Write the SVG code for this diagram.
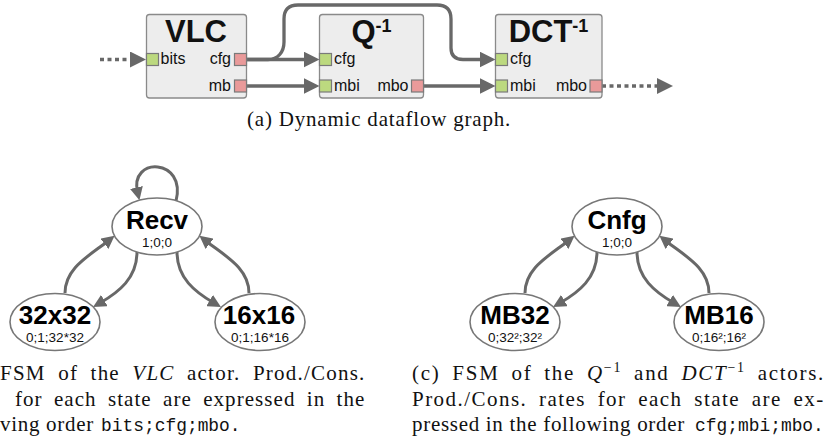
<svg xmlns="http://www.w3.org/2000/svg" width="825" height="442" viewBox="0 0 825 442">
<defs>
<style>
.box{fill:#ededed;stroke:#8a8a8a;stroke-width:1.3}
.pin{fill:#bcd97f;stroke:#7a7a7a;stroke-width:1.2}
.pout{fill:#e99a9a;stroke:#7a7a7a;stroke-width:1.2}
.title{font-family:"Liberation Sans",Arial,sans-serif;font-weight:bold;font-size:31px;fill:#111}
.sup{font-size:18px}
.port{font-family:"Liberation Sans",Arial,sans-serif;font-size:16px;fill:#111}
.edge{fill:none;stroke:#686868;stroke-width:3.3}
.dot{stroke-dasharray:4 3.5}
.st{fill:#fff;stroke:#777;stroke-width:1.6}
.big{font-family:"Liberation Sans",Arial,sans-serif;font-weight:bold;font-size:26px;fill:#000;text-anchor:middle}
.small{font-family:"Liberation Sans",Arial,sans-serif;font-size:13.5px;fill:#111;text-anchor:middle}
.fe{fill:none;stroke:#686868;stroke-width:3}
.cap{font-family:"Liberation Serif","Times New Roman",serif;font-size:21px;fill:#111;letter-spacing:0.7px}
.tt{font-family:"Liberation Mono","Courier New",monospace;font-size:17.9px;letter-spacing:0}
</style>
<marker id="ah" markerUnits="userSpaceOnUse" markerWidth="16" markerHeight="16" refX="6" refY="8" orient="auto" viewBox="0 0 16 16"><path d="M0,0 L16,8 L0,16 z" fill="#686868"/></marker>
<marker id="fh" markerUnits="userSpaceOnUse" markerWidth="13" markerHeight="13" refX="5" refY="6.5" orient="auto" viewBox="0 0 13 13"><path d="M0,0 L13,6.5 L0,13 z" fill="#686868"/></marker>
</defs>
<rect width="825" height="442" fill="#fff"/>

<g id="connectors">
<path class="edge dot" d="M100 59.5 H136" marker-end="url(#ah)"/>
<path class="edge" d="M246.5 59.5 H309.5" marker-end="url(#ah)"/>
<path class="edge" d="M246.5 59.5 H268 C278 59.5 284 52 284 42 V19 Q284 5 298 5 H437 Q451 5 451 19 V48 Q451 59.5 463 59.5 H485.5" marker-end="url(#ah)"/>
<path class="edge" d="M246.5 86 H309.5" marker-end="url(#ah)"/>
<path class="edge" d="M423.5 86 H485.5" marker-end="url(#ah)"/>
<path class="edge dot" d="M602 86 H663" marker-end="url(#ah)"/>
</g>

<g id="node-vlc">
<rect class="box" x="146.5" y="14.5" width="100" height="83.5" rx="3"/>
<text class="title" x="196" y="42" text-anchor="middle">VLC</text>
<rect class="pin" x="146.5" y="53.5" width="12" height="12"/>
<text class="port" x="160.5" y="64">bits</text>
<rect class="pout" x="234.5" y="53.5" width="12" height="12"/>
<text class="port" x="231" y="64" text-anchor="end">cfg</text>
<rect class="pout" x="234.5" y="80" width="12" height="12"/>
<text class="port" x="231" y="91" text-anchor="end">mb</text>
</g>

<g id="node-q">
<rect class="box" x="319.5" y="14.5" width="104" height="83.5" rx="3"/>
<text class="title" x="371.5" y="42" text-anchor="middle">Q<tspan class="sup" dy="-10">-1</tspan></text>
<rect class="pin" x="319.5" y="53.5" width="12" height="12"/>
<text class="port" x="334" y="64">cfg</text>
<rect class="pin" x="319.5" y="80" width="12" height="12"/>
<text class="port" x="334" y="91">mbi</text>
<rect class="pout" x="411.5" y="80" width="12" height="12"/>
<text class="port" x="408.5" y="91" text-anchor="end">mbo</text>
</g>

<g id="node-dct">
<rect class="box" x="495.5" y="14.5" width="106.5" height="83.5" rx="3"/>
<text class="title" x="548.5" y="42" text-anchor="middle">DCT<tspan class="sup" dy="-10">-1</tspan></text>
<rect class="pin" x="495.5" y="53.5" width="12" height="12"/>
<text class="port" x="510" y="64">cfg</text>
<rect class="pin" x="495.5" y="80" width="12" height="12"/>
<text class="port" x="510" y="91">mbi</text>
<rect class="pout" x="590" y="80" width="12" height="12"/>
<text class="port" x="587" y="91" text-anchor="end">mbo</text>
</g>

<text class="cap" x="247" y="126" textLength="264" lengthAdjust="spacing">(a) Dynamic dataflow graph.</text>

<g id="fsm-connectors">
<path class="fe" d="M176 201 C187 158 129 156 137.6 192.4" marker-end="url(#fh)"/>
<path class="fe" d="M65 293 C65 268 89 256 108.3 240.7" marker-end="url(#fh)"/>
<path class="fe" d="M137 252 C137 278 119 292 100 303" marker-end="url(#fh)"/>
<path class="fe" d="M177 252 C177 278 195 292 214 303" marker-end="url(#fh)"/>
<path class="fe" d="M249 293 C249 268 225 256 205.7 240.7" marker-end="url(#fh)"/>
<path class="fe" d="M525 293 C525 268 549 256 568.3 240.7" marker-end="url(#fh)"/>
<path class="fe" d="M597 252 C597 278 579 292 560 303" marker-end="url(#fh)"/>
<path class="fe" d="M637 252 C637 278 655 292 674 303" marker-end="url(#fh)"/>
<path class="fe" d="M709 293 C709 268 685 256 665.7 240.7" marker-end="url(#fh)"/>
</g>

<g id="node-recv">
<ellipse class="st" cx="157" cy="226.5" rx="45" ry="28.5"/>
<text class="big" x="157" y="229">Recv</text>
<text class="small" x="157" y="246.5">1;0;0</text>
</g>
<g id="node-32x32">
<ellipse class="st" cx="55" cy="322" rx="45" ry="28.5"/>
<text class="big" x="55" y="324">32x32</text>
<text class="small" x="55" y="341.5">0;1;32*32</text>
</g>
<g id="node-16x16">
<ellipse class="st" cx="260" cy="322" rx="45" ry="28.5"/>
<text class="big" x="259" y="324">16x16</text>
<text class="small" x="260" y="341.5">0;1;16*16</text>
</g>
<g id="node-cnfg">
<ellipse class="st" cx="617" cy="226.5" rx="45" ry="28.5"/>
<text class="big" x="617" y="229">Cnfg</text>
<text class="small" x="617" y="246.5">1;0;0</text>
</g>
<g id="node-mb32">
<ellipse class="st" cx="515" cy="322" rx="45" ry="28.5"/>
<text class="big" x="515" y="324">MB32</text>
<text class="small" x="515" y="341.5">0;32²;32²</text>
</g>
<g id="node-mb16">
<ellipse class="st" cx="719" cy="322" rx="45" ry="28.5"/>
<text class="big" x="719" y="324">MB16</text>
<text class="small" x="719" y="341.5">0;16²;16²</text>
</g>

<g id="captions">
<text class="cap" x="0" y="380" textLength="365" lengthAdjust="spacing" word-spacing="6">FSM of the <tspan font-style="italic">VLC</tspan> actor. Prod./Cons.</text>
<text class="cap" x="15" y="406" textLength="350" lengthAdjust="spacing" word-spacing="5">for each state are expressed in the</text>
<text class="cap" y="431"><tspan x="0">ving order</tspan><tspan class="tt" x="101">bits;cfg;mbo.</tspan></text>
<text class="cap" x="412" y="380" textLength="412" lengthAdjust="spacing" word-spacing="5">(c) FSM of the <tspan font-style="italic">Q</tspan><tspan font-size="14" dy="-8">−1</tspan><tspan dy="8"> and </tspan><tspan font-style="italic">DCT</tspan><tspan font-size="14" dy="-8">−1</tspan><tspan dy="8"> actors.</tspan></text>
<text class="cap" x="412" y="406" textLength="412" lengthAdjust="spacing" word-spacing="5">Prod./Cons. rates for each state are ex-</text>
<text class="cap" y="431"><tspan x="412">pressed in the following order</tspan><tspan class="tt" x="695">cfg;mbi;mbo.</tspan></text>
</g>
</svg>
